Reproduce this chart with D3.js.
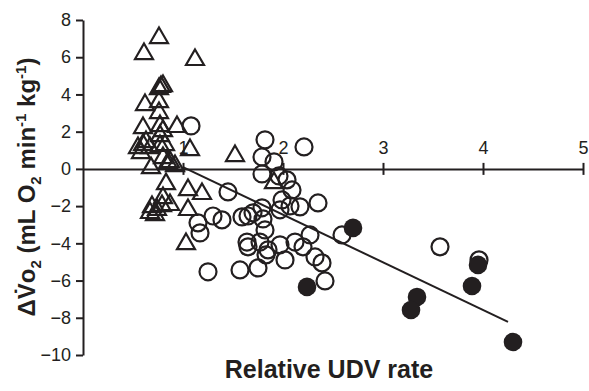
<!DOCTYPE html>
<html>
<head>
<meta charset="utf-8">
<script src="https://cdn.jsdelivr.net/npm/d3@7"></script>
<style>
  html, body { margin: 0; padding: 0; background: #fff; overflow: hidden; }
  svg { display: block; }
  text { font-family: "Liberation Sans", Arial, sans-serif; fill: #231f20; }
</style>
</head>
<body>
<svg id="chart"></svg>
<script>
// Triangles (x = relative UDV rate, y = change in VO2)
const triX = [0.76, 0.61, 1.12, 0.78, 0.80, 0.76, 0.76, 0.62, 0.76, 0.94, 0.60, 0.77, 0.80, 0.77,
  0.55, 0.60, 0.67, 0.77, 0.63, 0.82, 0.58, 1.07, 1.52, 0.80, 0.87, 0.92, 0.68, 0.85,
  0.83, 1.05, 1.19, 0.80, 0.69, 0.74, 0.79, 0.87, 0.67, 0.72, 1.05, 1.03, 1.91];
const triY = [7.04, 6.18, 5.86, 4.41, 4.46, 4.30, 3.60, 3.44, 3.01, 2.26, 2.20, 2.31, 2.04, 1.77,
  1.13, 1.29, 1.13, 1.24, 1.45, 1.29, 0.86, 1.02, 0.70, 0.59, 0.37, 0.16, 0.05, 0.32,
  -0.81, -1.13, -1.34, -1.56, -2.04, -2.20, -1.99, -1.93, -2.36, -2.47, -2.20, -4.03, -0.75];

// Open circles
const openX = [1.08, 1.82, 2.21, 1.79, 1.91, 1.79, 1.96, 2.04, 2.09, 1.45,
  1.99, 2.17, 2.35, 1.97, 2.07, 1.30, 1.39, 1.15, 1.17, 1.59, 1.65, 1.79, 1.80, 1.82, 1.70,
  1.64, 1.65, 1.77, 1.85, 1.83, 1.97, 2.02, 2.12, 2.20, 2.27, 2.32, 2.39, 2.42, 2.59,
  1.25, 1.57, 1.75, 3.57, 3.96];
const openY = [2.31, 1.56, 1.18, 0.64, 0.38, -0.27, -0.38, -0.59, -1.13, -1.24,
  -1.67, -2.04, -1.83, -2.20, -1.99, -2.53, -2.74, -2.90, -3.44, -2.58, -2.53, -2.09, -2.69, -3.28, -2.36,
  -3.93, -4.19, -3.93, -4.35, -4.62, -4.08, -4.89, -3.93, -4.19, -3.55, -4.73, -5.05, -6.02, -3.55,
  -5.53, -5.43, -5.32, -4.19, -4.89];

// Filled circles
const fillX = [2.70, 2.24, 3.34, 3.28, 3.95, 3.89, 4.30];
const fillY = [-3.17, -6.34, -6.88, -7.58, -5.16, -6.29, -9.30];

// Regression line end points
const lineX = [1.0, 4.25];
const lineY = [0.1, -8.22];

const xTicks = [1, 2, 3, 4, 5];
const yTicks = [-10, -8, -6, -4, -2, 0, 2, 4, 6, 8];

const width = 589, height = 391;
const ink = "#231f20";
const fontFam = "'Liberation Sans', Arial, sans-serif";

const svg = d3.select("#chart").attr("width", width).attr("height", height);

const x = d3.scaleLinear().domain([0, 5]).range([83, 583]);
const y = d3.scaleLinear().domain([-10, 8]).range([355, 20]);

// y axis
const yAxis = svg.append("g")
    .attr("transform", `translate(${x(0)},0)`)
    .call(d3.axisLeft(y).tickValues(yTicks).tickFormat(d3.format("d"))
      .tickSize(7).tickSizeOuter(0).tickPadding(5));
yAxis.select(".domain").attr("stroke", ink).attr("stroke-width", 2);
yAxis.selectAll(".tick line").attr("stroke", ink).attr("stroke-width", 2);
yAxis.selectAll(".tick text").attr("font-size", 18).attr("fill", ink).style("font-family", fontFam);

// x axis along y = 0, ticks cross the line, labels above
const xAxis = svg.append("g")
    .attr("transform", `translate(0,${y(0)})`)
    .call(d3.axisTop(x).tickValues(xTicks).tickFormat(d3.format("d"))
      .tickSize(6).tickSizeOuter(0).tickPadding(9));
xAxis.select(".domain").attr("stroke", ink).attr("stroke-width", 2);
xAxis.selectAll(".tick line").attr("stroke", ink).attr("stroke-width", 2).attr("y2", -6).attr("y1", 6);
xAxis.selectAll(".tick text").attr("font-size", 18).attr("fill", ink).style("font-family", fontFam);

// regression line
svg.append("line")
    .attr("x1", x(lineX[0])).attr("y1", y(lineY[0]))
    .attr("x2", x(lineX[1])).attr("y2", y(lineY[1]))
    .attr("stroke", ink).attr("stroke-width", 2);

// triangles
const tri = d3.symbol().type(d3.symbolTriangle).size(140);
svg.append("g").selectAll("path")
    .data(triX.map((d, i) => [d, triY[i]]))
    .join("path")
    .attr("d", tri)
    .attr("transform", d => `translate(${x(d[0])},${y(d[1])})`)
    .attr("fill", "none").attr("stroke", ink).attr("stroke-width", 2.2);

// open circles
svg.append("g").selectAll("circle")
    .data(openX.map((d, i) => [d, openY[i]]))
    .join("circle")
    .attr("cx", d => x(d[0])).attr("cy", d => y(d[1])).attr("r", 8.5)
    .attr("fill", "none").attr("stroke", ink).attr("stroke-width", 2.2);

// filled circles
svg.append("g").selectAll("circle")
    .data(fillX.map((d, i) => [d, fillY[i]]))
    .join("circle")
    .attr("cx", d => x(d[0])).attr("cy", d => y(d[1])).attr("r", 9.3)
    .attr("fill", ink);

// axis titles
svg.append("text")
    .attr("x", 329).attr("y", 378)
    .attr("text-anchor", "middle")
    .attr("font-size", 25).attr("font-weight", "bold")
    .text("Relative UDV rate");

const yt = svg.append("text")
    .attr("transform", "translate(35,187) rotate(-90)")
    .attr("text-anchor", "middle")
    .attr("font-size", 24).attr("font-weight", "bold");
yt.append("tspan").text("\u0394V\u0307o");
yt.append("tspan").attr("font-size", 15).attr("dy", 6).text("2");
yt.append("tspan").attr("dy", -6).text(" (mL O");
yt.append("tspan").attr("font-size", 15).attr("dy", 6).text("2");
yt.append("tspan").attr("dy", -6).text(" min");
yt.append("tspan").attr("font-size", 15).attr("dy", -9).text("-1");
yt.append("tspan").attr("dy", 9).text(" kg");
yt.append("tspan").attr("font-size", 15).attr("dy", -9).text("-1");
yt.append("tspan").attr("dy", 9).text(")");
</script>
</body>
</html>
